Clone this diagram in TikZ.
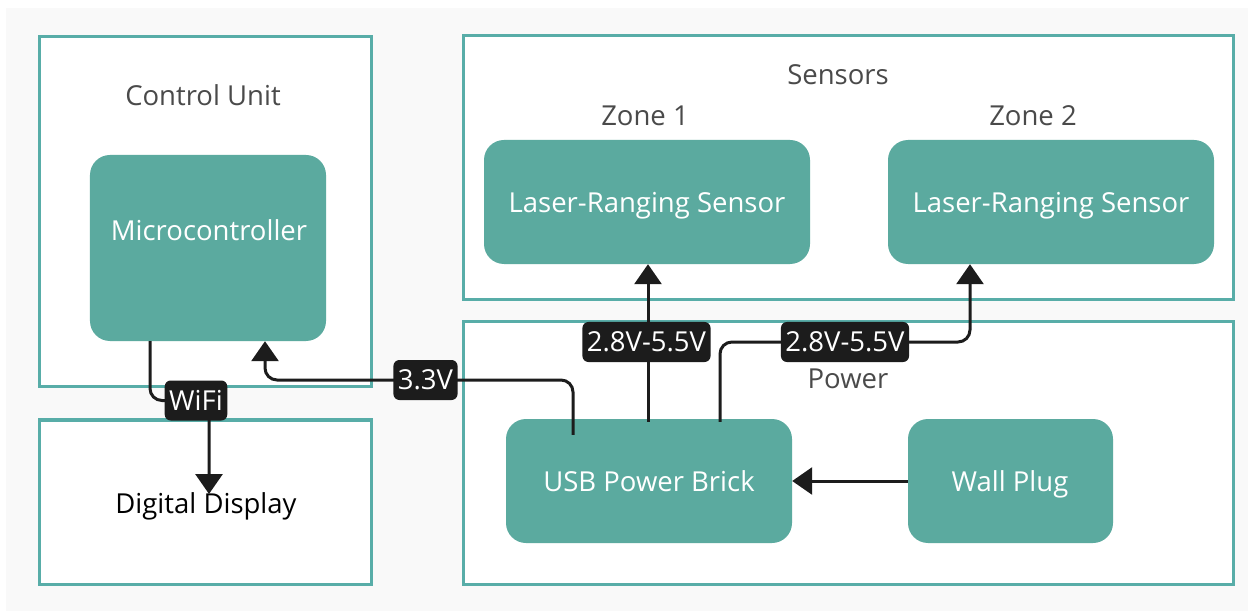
\documentclass[tikz,border=0pt]{standalone}
\usepackage{fontspec}
\setmainfont{Open Sans}
\usetikzlibrary{arrows.meta,calc}
\definecolor{tealfill}{HTML}{5BAA9F}
\definecolor{tealline}{HTML}{58ADA8}
\definecolor{bggray}{HTML}{F9F9F9}
\definecolor{tagblack}{HTML}{1C1C1C}
\definecolor{titlegray}{HTML}{4A4A4A}
\pgfdeclarelayer{tags}
\pgfsetlayers{main,tags}
\begin{document}
\begin{tikzpicture}[x=1bp,y=-1bp,
  font=\fontsize{27.5bp}{32bp}\selectfont,
  every node/.append style={text height=19.6bp, text depth=0pt},
  container/.style={draw=tealline, line width=3bp, fill=white, inner sep=0pt},
  block/.style={fill=tealfill, rounded corners=20bp, text=white, inner sep=0pt},
  tag/.style={fill=tagblack, text=white, rounded corners=6bp, inner xsep=4.5bp, inner ysep=0pt, minimum height=40bp},
  conn/.style={line width=3bp, draw=tagblack, rounded corners=12bp},
  arr/.style={-{Triangle[width=27bp,length=20bp]}},
  title/.style={text=titlegray, inner sep=0pt},
  blocktext/.style={text=white, inner sep=0pt}]
\useasboundingbox (0,0) rectangle (1248,611);
\fill[bggray] (6,8) rectangle (1248,611);

% containers
\node[container, minimum width=331bp, minimum height=349bp] (cu) at (205.5,211.5) {};
\node[container, minimum width=331bp, minimum height=164bp, text=black] (disp) at (205.5,502) {};
\node[inner sep=0pt, text=black] (disptext) at (206,504) {Digital Display};
\node[container, minimum width=769bp, minimum height=263bp] (sens) at (848.5,167.5) {};
\node[container, minimum width=769bp, minimum height=262bp] (pow) at (848.5,453) {};

% titles
\node[title] (tcu) at (203,96) {Control Unit};
\node[title] (tsens) at (838,75) {Sensors};
\node[title] (tz1) at (645,116) {Zone 1};
\node[title] (tz2) at (1033,116) {Zone 2};
\node[title] (tpow) at (848,379) {Power};

% blocks
\node[block, minimum width=236bp, minimum height=186bp] (mc) at (208,248) {};
\node[blocktext] (mctext) at (209,231) {Microcontroller};
\node[block, minimum width=326bp, minimum height=124bp] (ls1) at (647,202) {};
\node[blocktext] (ls1text) at (647,203) {Laser-Ranging Sensor};
\node[block, minimum width=326bp, minimum height=124bp] (ls2) at (1051,202) {};
\node[blocktext] (ls2text) at (1051,203) {Laser-Ranging Sensor};
\node[block, minimum width=286bp, minimum height=124bp] (brick) at (649,481) {};
\node[blocktext] (bricktext) at (649,482) {USB Power Brick};
\node[block, minimum width=205bp, minimum height=124bp] (wall) at (1010.5,481) {};
\node[blocktext] (walltext) at (1010,482) {Wall Plug};

% tags
\begin{pgfonlayer}{tags}
\node[tag] (twifi) at (196,400.5) {WiFi};
\node[tag] (t33) at (425.5,380) {3.3V};
\node[tag] (tv1) at (646.5,342) {2.8V-5.5V};
\node[tag] (tv2) at (845,342) {2.8V-5.5V};
\end{pgfonlayer}

% connectors
\coordinate (w1) at ($(mc.south)+(-58,0)$);
\coordinate (w2) at ($(disp.center)+(3.5,-8)$);
\draw[conn,arr] (w1) -- (w1 |- twifi) -- (w2 |- twifi) -- (w2);

\coordinate (p1) at ($(brick.north)+(-76,16)$);
\coordinate (p2) at ($(mc.south)+(57,0)$);
\draw[conn,arr] (p1) -- (p1 |- t33) -- (p2 |- t33) -- (p2);

\coordinate (q1) at ($(brick.north)+(-1,3)$);
\draw[conn,arr] (q1) -- (q1 |- ls1.south);

\coordinate (r1) at ($(brick.north)+(71,3)$);
\coordinate (r2) at ($(ls2.south)+(-81,0)$);
\draw[conn,arr] (r1) -- (r1 |- tv2) -- (r2 |- tv2) -- (r2);

\draw[conn,arr] (wall.west) -- (brick.east);
\end{tikzpicture}
\end{document}
